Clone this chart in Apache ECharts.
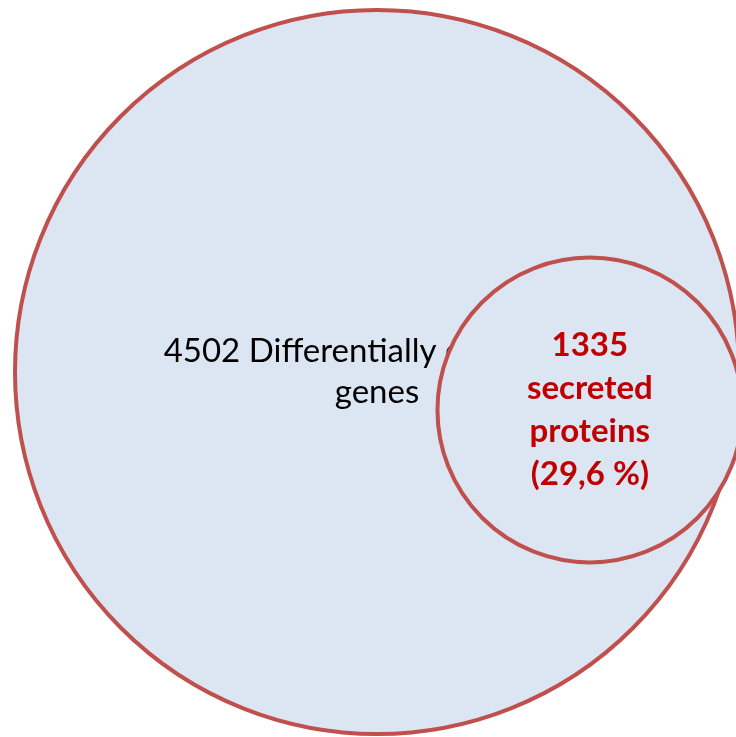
<!DOCTYPE html>
<html>
<head>
<meta charset="utf-8">
<script src="https://cdn.jsdelivr.net/npm/echarts@6/dist/echarts.min.js"></script>
<style>
  html, body { margin: 0; padding: 0; background: #fff; }
  #venn { width: 736px; height: 737px; }
</style>
</head>
<body>
<div id="venn"></div>
<script>
// set labels and counts
var setLabels = ['4502 Differentially expressed\ngenes', '1335\nsecreted\nproteins\n(29,6 %)'];
var setCounts = [4502, 1335];
var setShare = [100, 29.6];

// circle geometry, in units of the big circle radius (x right, y up)
var circleX = [0, 0.588];
var circleY = [0, -0.105];
var circleR = [1, 0.421];

// big circle centre on the page and its radius in px
var origin = { x: 377, y: 372, r: 362 };
var W = 736, H = 737;

var data = setCounts.map(function (c, i) {
  return [circleX[i], circleY[i], circleR[i], c, setShare[i]];
});

var textColor = ['#000000', '#C00000'];
var textWeight = ['normal', 'bold'];

var chart = echarts.init(document.getElementById('venn'));
chart.setOption({
  animation: false,
  grid: { left: 0, right: 0, top: 0, bottom: 0 },
  xAxis: {
    type: 'value', show: false,
    min: -origin.x / origin.r, max: (W - origin.x) / origin.r
  },
  yAxis: {
    type: 'value', show: false,
    min: -(H - origin.y) / origin.r, max: origin.y / origin.r
  },
  series: [{
    type: 'custom',
    clip: false,
    data: data,
    renderItem: function (params, api) {
      var i = params.dataIndex;
      var c = api.coord([api.value(0), api.value(1)]);
      var r = api.size([api.value(2), 0])[0];
      return {
        type: 'group',
        children: [{
          type: 'circle',
          shape: { cx: c[0], cy: c[1], r: r },
          style: { fill: '#DCE6F2', stroke: '#C0504D', lineWidth: 4 }
        }, {
          type: 'text',
          style: {
            text: setLabels[i],
            x: c[0], y: c[1],
            align: 'center',
            verticalAlign: 'middle',
            fill: textColor[i],
            fontFamily: 'Lato',
            fontWeight: textWeight[i],
            fontSize: 33,
            lineHeight: i === 0 ? 41 : 43
          }
        }]
      };
    }
  }]
});
</script>
</body>
</html>
